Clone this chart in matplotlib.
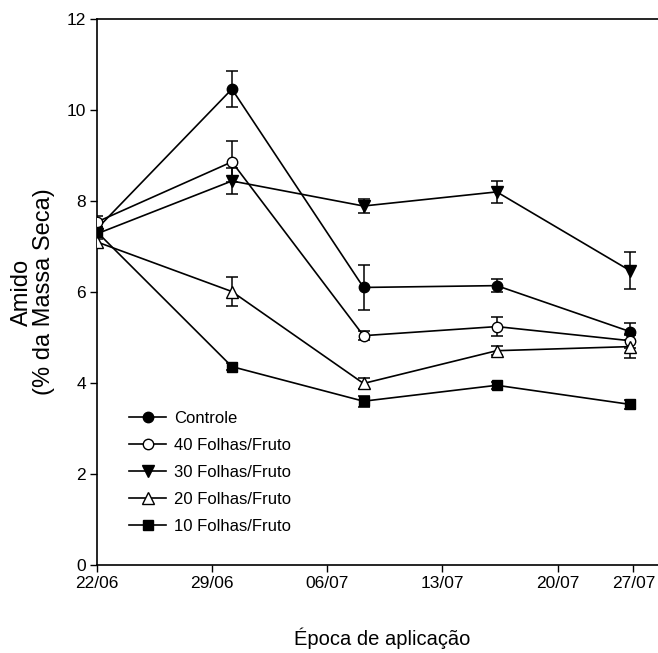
import matplotlib
matplotlib.use("Agg")
import matplotlib.pyplot as plt

plt.rcParams['font.family'] = ['Liberation Sans', 'DejaVu Sans']

# days after 22/06
dias = [0, 8.2, 16.2, 24.3, 32.4]
tick_pos = [0, 7, 14, 21, 28, 32.6]
tick_labels = ['22/06', '29/06', '06/07', '13/07', '20/07', '27/07']

controle = [7.39, 10.46, 6.10, 6.14, 5.13]
controle_err = [0.15, 0.40, 0.50, 0.15, 0.18]
f40 = [7.54, 8.86, 5.04, 5.24, 4.93]
f40_err = [0.12, 0.45, 0.10, 0.20, 0.15]
f30 = [7.28, 8.44, 7.89, 8.20, 6.47]
f30_err = [0.12, 0.28, 0.15, 0.25, 0.40]
f20 = [7.10, 6.01, 3.99, 4.71, 4.80]
f20_err = [0.12, 0.32, 0.12, 0.10, 0.25]
f10 = [7.32, 4.36, 3.60, 3.95, 3.53]
f10_err = [0.10, 0.08, 0.12, 0.08, 0.10]

series = [
    ('Controle', controle, controle_err, 'o', 'black'),
    ('40 Folhas/Fruto', f40, f40_err, 'o', 'white'),
    ('30 Folhas/Fruto', f30, f30_err, 'v', 'black'),
    ('20 Folhas/Fruto', f20, f20_err, '^', 'white'),
    ('10 Folhas/Fruto', f10, f10_err, 's', 'black'),
]

fig = plt.figure(figsize=(6.58, 6.53), dpi=100)
ax = fig.add_axes([97 / 658, 1 - 565 / 653, 1 - 97 / 658, (565 - 19) / 653])

handles = []
for name, vals, err, mk, face in series:
    ax.errorbar(dias, vals, yerr=err, fmt='none', ecolor='black', elinewidth=1.1,
                capsize=4, capthick=1.1, zorder=2)
    ms = 7.5 if mk in ('o', 's') else 8.5
    h, = ax.plot(dias, vals, color='black', lw=1.2, marker=mk, markersize=ms,
                 markerfacecolor=face, markeredgecolor='black', markeredgewidth=1.0,
                 label=name, zorder=3)
    handles.append(h)

ax.set_xlim(0, 34.1)
ax.set_ylim(0, 12)
ax.set_xticks(tick_pos)
ax.set_xticklabels(tick_labels)
ax.set_yticks([0, 2, 4, 6, 8, 10, 12])
ax.tick_params(direction='out', length=5, width=1, labelsize=12.5, pad=3)
ax.spines['right'].set_visible(False)
for s in ['left', 'bottom', 'top']:
    ax.spines[s].set_linewidth(1.2)

ax.legend(handles=handles, loc='upper left', bbox_to_anchor=(0.046, 0.2945),
          frameon=False, fontsize=12, numpoints=1, handlelength=2.2,
          handletextpad=0.45, labelspacing=0.72, borderaxespad=0)

fig.text(33 / 658, 1 - 292 / 653, 'Amido\n(% da Massa Seca)', rotation=90,
         ha='center', va='center', multialignment='center', fontsize=17,
         linespacing=1.0)
fig.text(382 / 658, 1 - 638 / 653, 'Época de aplicação', ha='center', va='center',
         fontsize=14.5)

fig.savefig('out.png', dpi=100)
